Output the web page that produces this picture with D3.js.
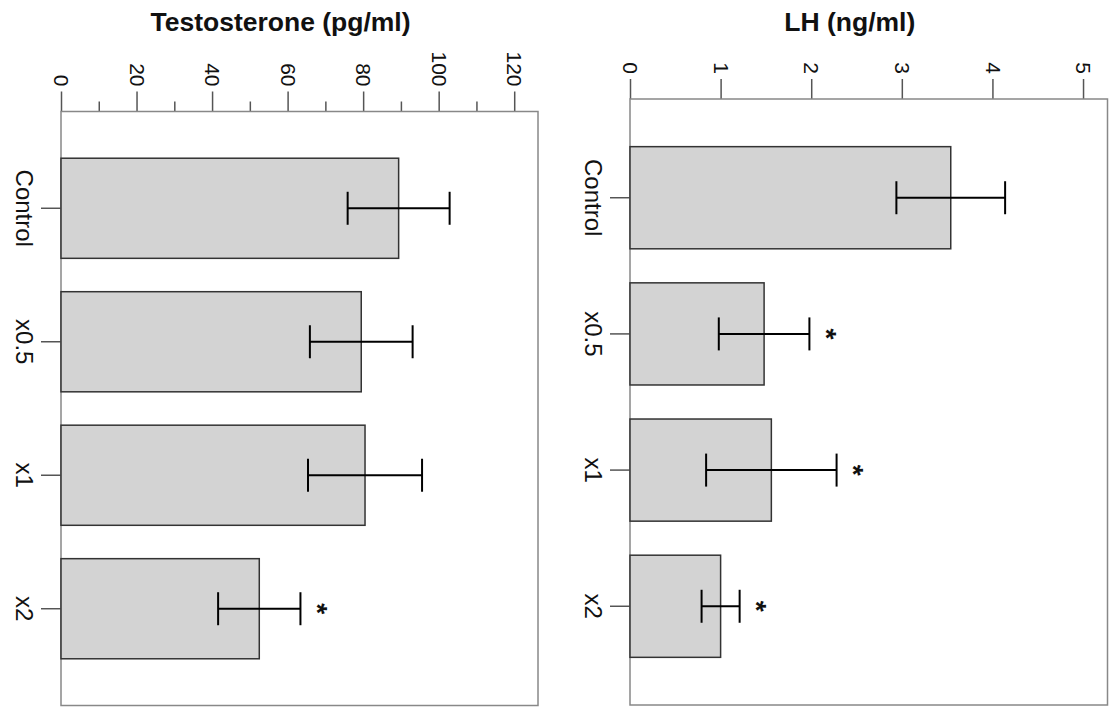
<!DOCTYPE html>
<html>
<head>
<meta charset="utf-8">
<script src="https://cdn.jsdelivr.net/npm/d3@7"></script>
<style>
  body { margin: 0; background: #fff; }
  svg { display: block; font-family: "Liberation Sans", Arial, sans-serif; }
</style>
</head>
<body>
<div id="chart"></div>
<script>
const width = 1110;
const height = 707;

// data
const categories = ["Control", "x0.5", "x1", "x2"];
const testoMean = [89.4, 79.5, 80.5, 52.5];
const testoSE = [13.5, 13.6, 15.1, 10.9];
const testoSig = [false, false, false, true];
const testoTicks = [0, 20, 40, 60, 80, 100, 120];
const testoMinor = [10, 30, 50, 70, 90, 110];

const lhMean = [3.54, 1.48, 1.56, 1.0];
const lhSE = [0.6, 0.5, 0.72, 0.21];
const lhSig = [false, true, true, true];
const lhTicks = [0, 1, 2, 3, 4, 5];
const lhMinor = [];

const svg = d3.select("#chart").append("svg").attr("width", width).attr("height", height);

const panels = [
  { title: "Testosterone (pg/ml)", mean: testoMean, se: testoSE, sig: testoSig, ticks: testoTicks, minor: testoMinor,
    max: 126.3, left: 61, right: 538, top: 111.5, bottom: 705.5 },
  { title: "LH (ng/ml)", mean: lhMean, se: lhSE, sig: lhSig, ticks: lhTicks, minor: lhMinor,
    max: 5.27, left: 630, right: 1107.5, top: 99, bottom: 705 }
];

panels.forEach((p) => {
  const g = svg.append("g");
  const x = d3.scaleLinear().domain([0, p.max]).range([p.left, p.right]);
  const y = d3.scaleBand().domain(categories).range([p.top, p.bottom]).paddingInner(0.25).paddingOuter(0.35);
  const rows = categories.map((c, i) => ({ c, m: p.mean[i], se: p.se[i], sig: p.sig[i] }));

  // title (sits a little left of the panel centre)
  g.append("text")
    .attr("x", (p.left + p.right) / 2 - 19)
    .attr("y", 31)
    .attr("text-anchor", "middle")
    .attr("font-size", 26.5)
    .attr("font-weight", "bold")
    .attr("fill", "#111")
    .text(p.title);

  // value axis along the top
  const ax = g.append("g")
    .attr("transform", `translate(0,${p.top})`)
    .call(d3.axisTop(x).tickValues(p.ticks).tickFormat(d3.format("d")).tickSize(20).tickSizeOuter(0));
  ax.select(".domain").remove();
  ax.selectAll(".tick line").attr("stroke", "#555").attr("stroke-width", 1.5);
  ax.selectAll(".tick text")
    .attr("x", 0).attr("y", 0).attr("dy", "0.35em")
    .attr("text-anchor", "end")
    .attr("transform", "translate(0,-25) rotate(90)")
    .attr("font-size", 21)
    .attr("font-family", "Liberation Sans, Arial, sans-serif")
    .attr("fill", "#111");

  if (p.minor.length) {
    const mx = g.append("g")
      .attr("transform", `translate(0,${p.top})`)
      .call(d3.axisTop(x).tickValues(p.minor).tickSize(10).tickFormat(""));
    mx.select(".domain").remove();
    mx.selectAll(".tick line").attr("stroke", "#555").attr("stroke-width", 1.5);
  }

  // category axis
  const ay = g.append("g")
    .attr("transform", `translate(${p.left},0)`)
    .call(d3.axisLeft(y).tickSize(20).tickSizeOuter(0));
  ay.select(".domain").remove();
  ay.selectAll(".tick line").attr("stroke", "#555").attr("stroke-width", 1.5);
  ay.selectAll(".tick text")
    .attr("x", 0).attr("y", 0).attr("dy", "0.72em")
    .attr("text-anchor", "middle")
    .attr("transform", "translate(-28,0) rotate(90)")
    .attr("font-size", 24)
    .attr("font-family", "Liberation Sans, Arial, sans-serif")
    .attr("fill", "#111");

  // plot box
  g.append("rect")
    .attr("x", p.left).attr("y", p.top)
    .attr("width", p.right - p.left).attr("height", p.bottom - p.top)
    .attr("fill", "none").attr("stroke", "#888").attr("stroke-width", 1.5);

  // bars
  g.selectAll("rect.bar").data(rows).join("rect")
    .attr("class", "bar")
    .attr("x", x(0))
    .attr("y", (d) => y(d.c))
    .attr("width", (d) => x(d.m) - x(0))
    .attr("height", y.bandwidth())
    .attr("fill", "#d3d3d3")
    .attr("stroke", "#333")
    .attr("stroke-width", 1.5);

  // error bars
  const cap = 16.5;
  const eb = g.selectAll("g.err").data(rows).join("g").attr("class", "err")
    .attr("stroke", "#000").attr("stroke-width", 2);
  eb.append("line")
    .attr("x1", (d) => x(d.m - d.se)).attr("x2", (d) => x(d.m + d.se))
    .attr("y1", (d) => y(d.c) + y.bandwidth() / 2).attr("y2", (d) => y(d.c) + y.bandwidth() / 2);
  eb.append("line")
    .attr("x1", (d) => x(d.m - d.se)).attr("x2", (d) => x(d.m - d.se))
    .attr("y1", (d) => y(d.c) + y.bandwidth() / 2 - cap).attr("y2", (d) => y(d.c) + y.bandwidth() / 2 + cap);
  eb.append("line")
    .attr("x1", (d) => x(d.m + d.se)).attr("x2", (d) => x(d.m + d.se))
    .attr("y1", (d) => y(d.c) + y.bandwidth() / 2 - cap).attr("y2", (d) => y(d.c) + y.bandwidth() / 2 + cap);

  // significance stars
  g.selectAll("text.star").data(rows.filter((d) => d.sig)).join("text")
    .attr("class", "star")
    .attr("text-anchor", "middle")
    .attr("dy", "0.58em")
    .attr("font-size", 28)
    .attr("font-weight", "bold")
    .attr("fill", "#111")
    .attr("transform", (d) => `translate(${x(d.m + d.se) + 24},${y(d.c) + y.bandwidth() / 2}) rotate(90)`)
    .text("*");
});
</script>
</body>
</html>
